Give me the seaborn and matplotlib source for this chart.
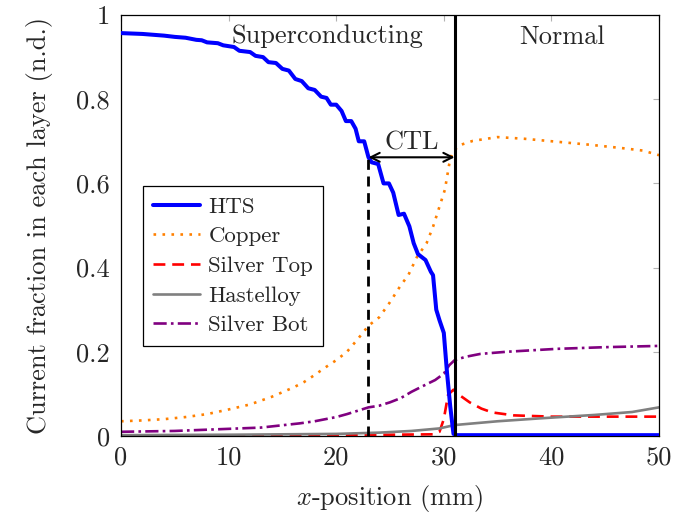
import matplotlib
matplotlib.use("Agg")
import matplotlib.pyplot as plt
import seaborn as sns
import numpy as np

# --- current fraction in each layer along the tape (x in mm) ---
x_hts = [0, 2, 4, 5, 6, 7, 7.5, 8, 9, 9.5, 10.5, 11, 12, 12.5, 13.2, 13.7, 14.4, 15, 15.6,
         16.2, 16.8, 17.4, 18, 18.6, 19.1, 19.5, 20, 20.5, 20.9, 21.4, 21.8, 22.1, 22.6, 23.0,
         23.3, 23.9, 24.4, 24.9, 25.3, 25.8, 26.3, 26.8, 27.2, 27.6, 28.3, 28.8, 29.0, 29.3,
         29.6, 30.0, 30.3, 30.6, 30.9, 31.2, 50]
hts = [0.957, 0.955, 0.951, 0.948, 0.946, 0.941, 0.940, 0.935, 0.933, 0.928, 0.924, 0.915,
       0.912, 0.903, 0.900, 0.888, 0.886, 0.872, 0.868, 0.848, 0.843, 0.826, 0.822, 0.806,
       0.803, 0.787, 0.787, 0.772, 0.748, 0.748, 0.730, 0.700, 0.700, 0.662, 0.650, 0.646,
       0.600, 0.600, 0.578, 0.525, 0.528, 0.498, 0.458, 0.432, 0.418, 0.390, 0.382, 0.300,
       0.275, 0.245, 0.150, 0.070, 0.005, 0.002, 0.002]

x_cu = [0, 2, 4, 6, 8, 10, 12, 14, 16, 17, 18, 19, 20, 21, 22, 23, 24, 25, 26, 26.7, 27.5,
        28.4, 29, 29.6, 30.1, 30.5, 30.8, 31.5, 32.7, 35, 37.5, 40.5, 43.5, 46.5, 48.5, 50]
copper = [0.035, 0.037, 0.040, 0.045, 0.052, 0.063, 0.075, 0.093, 0.115, 0.128, 0.145,
          0.163, 0.180, 0.200, 0.230, 0.262, 0.282, 0.318, 0.358, 0.382, 0.425, 0.458,
          0.497, 0.545, 0.585, 0.645, 0.675, 0.691, 0.701, 0.710, 0.706, 0.699, 0.692,
          0.684, 0.678, 0.667]

x_agt = [0, 10, 20, 25, 29, 29.6, 30.0, 30.4, 30.9, 31.3, 32.4, 33.5, 34.5, 36.5, 40, 45, 50]
silver_top = [0.001, 0.001, 0.002, 0.003, 0.004, 0.010, 0.040, 0.098, 0.110, 0.100, 0.080,
              0.065, 0.056, 0.049, 0.046, 0.046, 0.046]

x_has = [0, 10, 20, 24, 27, 29.6, 31, 35, 39, 44, 47.5, 50]
hastelloy = [0.002, 0.003, 0.005, 0.008, 0.012, 0.018, 0.026, 0.035, 0.042, 0.050, 0.057, 0.068]

x_agb = [0, 5, 10, 13, 16.6, 18, 20, 21, 22, 23, 24, 25, 26, 27, 28.4, 29.2, 30, 30.5, 31,
         32, 33.4, 35.8, 40.5, 45, 50]
silver_bot = [0.010, 0.012, 0.017, 0.020, 0.030, 0.035, 0.045, 0.052, 0.060, 0.068, 0.072,
              0.080, 0.090, 0.105, 0.123, 0.133, 0.148, 0.168, 0.180, 0.188, 0.195, 0.200,
              0.207, 0.211, 0.214]

# current transfer length bounds and the level of the arrow
ctl_start, ctl_end, ctl_level = 23, 31, 0.662

x_ticks = [0, 10, 20, 30, 40, 50]
y_ticks = [0, 0.2, 0.4, 0.6, 0.8, 1]
y_tick_labels = ["0", "0.2", "0.4", "0.6", "0.8", "1"]

sns.set_style("white")
plt.rcParams["font.family"] = ["cmr10", "DejaVu Serif"]
plt.rcParams["mathtext.fontset"] = "cm"
plt.rcParams["axes.formatter.use_mathtext"] = True

fig = plt.figure(figsize=(6.88, 5.15), dpi=100)
ax = fig.add_axes([121 / 688, 1 - 436 / 515, 538 / 688, 421 / 515])

sns.lineplot(x=x_hts, y=hts, ax=ax, color=(0, 0, 1), lw=2.9, label="HTS", zorder=5)
sns.lineplot(x=x_cu, y=copper, ax=ax, color=(1, 0.5, 0), lw=1.9,
             linestyle=(0, (1, 2.4)), label="Copper")
sns.lineplot(x=x_agt, y=silver_top, ax=ax, color=(1, 0, 0), lw=1.9,
             linestyle=(0, (4.5, 2.6)), label="Silver Top")
sns.lineplot(x=x_has, y=hastelloy, ax=ax, color=(0.5, 0.5, 0.5), lw=1.9, label="Hastelloy")
sns.lineplot(x=x_agb, y=silver_bot, ax=ax, color=(0.5, 0, 0.5), lw=1.9,
             linestyle=(0, (5, 1.6, 1, 1.6)), label="Silver Bot")

# boundaries of the transfer region
ax.plot([ctl_start, ctl_start], [0, ctl_level], color="k", lw=2.0,
        linestyle=(0, (3.6, 2.4)), zorder=6)
ax.axvline(ctl_end, color="k", lw=2.2, zorder=6)
ax.annotate("", xy=(ctl_start, ctl_level), xytext=(ctl_end, ctl_level),
            arrowprops=dict(arrowstyle="<->", color="k", lw=1.5,
                            shrinkA=0, shrinkB=0, mutation_scale=16), zorder=7)
ax.text((ctl_start + ctl_end) / 2, 0.698, "CTL", ha="center", va="center", fontsize=19)

ax.text(19.2, 0.95, "Superconducting", ha="center", va="center", fontsize=19)
ax.text(41.0, 0.948, "Normal", ha="center", va="center", fontsize=19)

ax.set_xlim(0, 50)
ax.set_ylim(0, 1)
ax.set_xticks(x_ticks)
ax.set_xticklabels([str(t) for t in x_ticks])
ax.set_yticks(y_ticks)
ax.set_yticklabels(y_tick_labels)
ax.tick_params(axis="both", direction="in", length=4, width=0.8, color="0.7",
               labelsize=19, top=True, right=True)
ax.tick_params(axis="x", pad=7)
ax.tick_params(axis="y", pad=8)
for sp in ax.spines.values():
    sp.set_color("k")
    sp.set_linewidth(0.9)

ax.set_xlabel("$x$-position (mm)", fontsize=19, labelpad=10)
ax.set_ylabel("Current fraction in each layer (n.d.)", fontsize=19, labelpad=17)

leg = ax.legend(loc="upper left", bbox_to_anchor=(0.041, 0.593), fontsize=16.5,
                frameon=True, fancybox=False, edgecolor="k", framealpha=1,
                handlelength=2.05, labelspacing=0.42, borderpad=0.45, handletextpad=0.35,
                borderaxespad=0)
leg.get_frame().set_linewidth(0.9)

fig.savefig("out.png", dpi=100)
